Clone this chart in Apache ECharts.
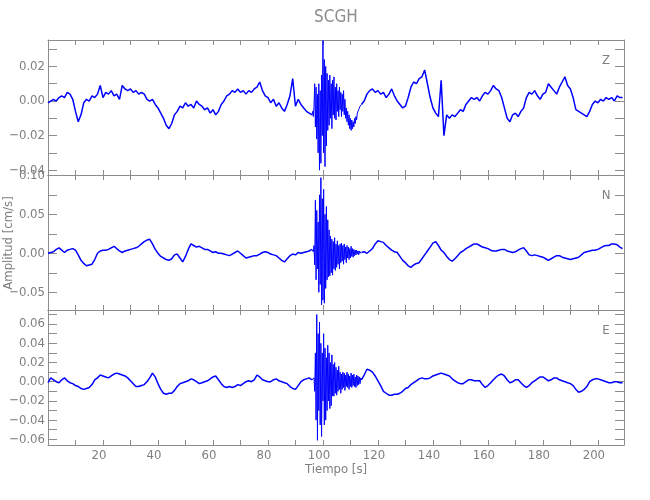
<!DOCTYPE html>
<html>
<head>
<meta charset="utf-8">
<script src="https://cdn.jsdelivr.net/npm/echarts@6/dist/echarts.min.js"></script>
<style>
html,body{margin:0;padding:0;background:#fff;}
#chart{width:650px;height:500px;}
</style>
</head>
<body>
<div id="chart"></div>
<script>
// Station and component names
const stationName = 'SCGH';
const componentNames = ['Z', 'N', 'E'];

// Each trace is read in three pieces: before the arrival (1 s steps, 0..96 s),
// the strong motion (0.25 s steps, 96.25..113.75 s), and the coda (1 s steps, 114..209 s).
const preStart = 0,       preStep = 1;
const strongStart = 96.25, strongStep = 0.25;
const postStart = 114,    postStep = 1;

// ---- Z component (cm/s) ----
const zPre = [
 -0.001, 0.000, 0.001, 0.000, 0.002, 0.003, 0.002, 0.005, 0.004, 0.001,
 -0.006, -0.012, -0.008, -0.001, 0.001, 0.000, 0.003, 0.002, 0.004, 0.009,
 0.002, 0.005, 0.004, 0.006, 0.003, 0.004, 0.001, 0.009, 0.007, 0.006,
 0.007, 0.005, 0.006, 0.004, 0.005, 0.004, 0.001, 0.000, 0.001, -0.002,
 -0.004, -0.007, -0.010, -0.014, -0.016, -0.013, -0.008, -0.006, -0.003, -0.004,
 -0.001, -0.003, -0.002, -0.004, 0.000, -0.002, -0.003, -0.005, -0.004, -0.007,
 -0.005, -0.008, -0.006, -0.002, 0.000, 0.003, 0.004, 0.006, 0.005, 0.007,
 0.005, 0.006, 0.004, 0.006, 0.005, 0.007, 0.008, 0.011, 0.006, 0.003,
 0.002, -0.001, 0.001, -0.003, -0.001, -0.004, -0.006, -0.002, 0.003, 0.013,
 -0.003, 0.001, -0.002, -0.004, -0.006, -0.007, -0.008
];
const zStrong = [
                    -0.006, -0.009, -0.003,
  0.010, -0.015,  0.008, -0.022,
  0.004, -0.030,  0.010, -0.040,
  0.006, -0.036,  0.015, -0.020,
  0.035, -0.030,  0.024, -0.038,
  0.020, -0.026,  0.016, -0.017,
  0.012, -0.014,  0.015, -0.010,
  0.010, -0.016,  0.012, -0.008,
  0.014, -0.010,  0.008, -0.011,
  0.010, -0.006,  0.006, -0.009,
  0.008, -0.005,  0.005, -0.009,
  0.004, -0.006,  0.006, -0.008,
  0.001, -0.010, -0.004, -0.012,
 -0.006, -0.014, -0.008, -0.016,
 -0.010, -0.017, -0.011, -0.016,
 -0.012, -0.015, -0.010, -0.013,
 -0.009, -0.011, -0.007, -0.008,
 -0.005, -0.006, -0.003, -0.003
];
const zPost = [
 -0.002, 0.000, 0.004, 0.006, 0.007, 0.005,
 0.006, 0.004, 0.005, 0.002, 0.004, 0.007, 0.003, 0.000, -0.002, -0.004,
 -0.003, 0.002, 0.008, 0.011, 0.010, 0.013, 0.014, 0.018, 0.010, 0.002,
 -0.004, -0.007, -0.009, 0.012, -0.020, -0.008, -0.010, -0.008, -0.009, -0.007,
 -0.005, -0.006, -0.002, 0.000, 0.002, 0.001, 0.002, 0.000, 0.003, 0.005,
 0.004, 0.006, 0.009, 0.007, 0.006, 0.002, -0.004, -0.010, -0.012, -0.008,
 -0.007, -0.009, -0.006, -0.004, 0.002, 0.005, 0.004, 0.006, 0.003, 0.001,
 0.004, 0.005, 0.010, 0.008, 0.006, 0.004, 0.008, 0.011, 0.014, 0.009,
 0.007, 0.002, -0.005, -0.006, -0.007, -0.008, -0.009, -0.006, -0.002, 0.000,
 -0.001, 0.001, 0.000, 0.002, 0.001, 0.002, 0.000, 0.003, 0.002, 0.002
];

// ---- N component (cm/s) ----
const nPre = [
 0.000, 0.001, 0.002, 0.005, 0.007, 0.004, 0.001, 0.004, 0.005, 0.006,
 0.004, -0.002, -0.009, -0.013, -0.016, -0.015, -0.014, -0.008, 0.000, 0.003,
 0.004, 0.004, 0.005, 0.007, 0.009, 0.006, 0.003, 0.001, 0.003, 0.004,
 0.005, 0.006, 0.007, 0.009, 0.012, 0.015, 0.017, 0.018, 0.012, 0.005,
 0.000, -0.004, -0.006, -0.008, -0.009, -0.007, -0.002, -0.001, -0.006, -0.011,
 -0.004, 0.005, 0.012, 0.010, 0.008, 0.009, 0.007, 0.005, 0.005, 0.003,
 0.001, 0.002, 0.000, 0.000, -0.001, -0.002, -0.003, -0.001, 0.001, 0.003,
 0.000, -0.003, -0.006, -0.005, -0.004, -0.003, -0.003, -0.001, 0.001, 0.002,
 0.001, -0.001, -0.002, -0.003, -0.006, -0.009, -0.011, -0.007, -0.003, -0.001,
 -0.002, 0.001, 0.000, 0.001, 0.002, 0.003, 0.005
];
const nStrong = [
                     0.004,  0.002,  0.010,
 -0.015,  0.068, -0.034,  0.055,
 -0.020,  0.040, -0.050,  0.075,
 -0.040,  0.097, -0.066,  0.070,
 -0.060,  0.082, -0.064,  0.050,
 -0.045,  0.060, -0.034,  0.043,
 -0.030,  0.030, -0.029,  0.022,
 -0.025,  0.018, -0.028,  0.015,
 -0.020,  0.020, -0.022,  0.012,
 -0.018,  0.016, -0.014,  0.010,
 -0.020,  0.012, -0.012,  0.013,
 -0.010,  0.010, -0.014,  0.012,
 -0.008,  0.008, -0.012,  0.010,
 -0.006,  0.008, -0.008,  0.006,
 -0.006,  0.009, -0.004,  0.006,
 -0.005,  0.005, -0.003,  0.004,
 -0.002,  0.004, -0.001,  0.003,
 -0.002,  0.003,  0.000,  0.002
];
const nPost = [
 0.001, 0.002, 0.000, 0.003, 0.006, 0.012,
 0.016, 0.015, 0.014, 0.010, 0.007, 0.004, 0.002, 0.001, -0.004, -0.009,
 -0.012, -0.016, -0.018, -0.015, -0.013, -0.012, -0.007, -0.002, 0.003, 0.008,
 0.013, 0.015, 0.010, 0.004, 0.001, -0.004, -0.008, -0.010, -0.007, -0.003,
 0.001, 0.003, 0.006, 0.008, 0.010, 0.012, 0.012, 0.010, 0.008, 0.007,
 0.006, 0.004, 0.003, 0.003, 0.004, 0.005, 0.005, 0.003, 0.002, 0.001,
 0.002, 0.004, 0.006, 0.007, 0.003, -0.002, -0.003, -0.002, -0.003, -0.004,
 -0.005, -0.007, -0.009, -0.007, -0.005, -0.003, -0.003, -0.005, -0.006, -0.007,
 -0.008, -0.007, -0.006, -0.005, -0.002, 0.001, 0.002, 0.003, 0.004, 0.004,
 0.005, 0.007, 0.009, 0.010, 0.010, 0.012, 0.012, 0.011, 0.008, 0.006
];

// ---- E component (cm/s) ----
const ePre = [
 -0.001, 0.004, 0.002, 0.000, -0.001, 0.002, 0.004, 0.001, -0.001, -0.002,
 -0.004, -0.005, -0.007, -0.008, -0.007, -0.006, -0.003, 0.002, 0.004, 0.007,
 0.006, 0.005, 0.004, 0.006, 0.008, 0.009, 0.008, 0.007, 0.006, 0.004,
 0.001, -0.002, -0.005, -0.005, -0.004, -0.003, 0.000, 0.004, 0.009, 0.005,
 -0.002, -0.008, -0.012, -0.013, -0.012, -0.012, -0.009, -0.005, -0.002, -0.001,
 0.000, 0.001, 0.003, 0.002, 0.000, -0.002, -0.001, 0.000, 0.001, 0.003,
 0.005, 0.006, 0.002, -0.002, -0.005, -0.006, -0.005, -0.006, -0.005, -0.003,
 -0.004, -0.002, 0.000, 0.001, 0.000, 0.002, 0.007, 0.005, 0.002, 0.001,
 0.000, 0.000, 0.002, 0.003, 0.001, 0.000, -0.001, -0.002, -0.005, -0.007,
 -0.008, -0.004, 0.000, 0.002, 0.003, 0.004, 0.002
];
const eStrong = [
                     0.003,  0.001,  0.004,
 -0.010,  0.030, -0.040,  0.070,
 -0.061,  0.050, -0.030,  0.062,
 -0.045,  0.040, -0.057,  0.030,
 -0.020,  0.050, -0.045,  0.035,
 -0.040,  0.025, -0.030,  0.038,
 -0.020,  0.030, -0.028,  0.020,
 -0.025,  0.028, -0.015,  0.018,
 -0.015,  0.020, -0.012,  0.015,
 -0.014,  0.012, -0.010,  0.016,
 -0.008,  0.010, -0.012,  0.008,
 -0.008,  0.010, -0.006,  0.009,
 -0.009,  0.007, -0.005,  0.010,
 -0.006,  0.008, -0.008,  0.006,
 -0.005,  0.009, -0.006,  0.007,
 -0.004,  0.008, -0.005,  0.005,
 -0.006,  0.007, -0.004,  0.006,
 -0.003,  0.005, -0.002,  0.004
];
const ePost = [
 0.002, 0.007, 0.013, 0.012, 0.010, 0.006,
 0.001, -0.004, -0.010, -0.012, -0.014, -0.014, -0.013, -0.013, -0.012, -0.010,
 -0.007, -0.006, -0.003, -0.001, 0.001, 0.003, 0.004, 0.003, 0.003, 0.004,
 0.006, 0.007, 0.008, 0.009, 0.008, 0.007, 0.006, 0.003, 0.001, -0.001,
 -0.002, -0.002, 0.000, 0.002, 0.002, 0.001, 0.001, 0.001, -0.003, -0.006,
 -0.004, -0.001, 0.002, 0.005, 0.007, 0.008, 0.006, 0.002, -0.001, 0.000,
 0.002, 0.002, -0.001, -0.004, -0.006, -0.004, -0.001, 0.001, 0.003, 0.005,
 0.005, 0.003, 0.001, 0.002, 0.004, 0.004, 0.002, 0.001, 0.000, -0.001,
 -0.002, -0.004, -0.008, -0.011, -0.010, -0.008, -0.005, 0.000, 0.002, 0.003,
 0.003, 0.002, 0.001, 0.000, -0.001, -0.001, 0.000, 0.000, -0.001, -0.001
];

// Axis ranges and ticks
const timeRange = [0, 209.5];
const timeTicks = [10,20,30,40,50,60,70,80,90,100,110,120,130,140,150,160,170,180,190,200];
const timeLabels = [20,40,60,80,100,120,140,160,180,200];

const ampRanges = [[-0.0428, 0.0353], [-0.0727, 0.1004], [-0.0659, 0.0747]];
const ampTicks = [
  [-0.04,-0.03,-0.02,-0.01,0,0.01,0.02,0.03],
  [-0.05,-0.025,0,0.025,0.05,0.075,0.10],
  [-0.06,-0.05,-0.04,-0.03,-0.02,-0.01,0,0.01,0.02,0.03,0.04,0.05,0.06,0.07]
];
const ampLabels = [
  [-0.04,-0.02,0,0.02],
  [-0.05,0,0.05,0.10],
  [-0.06,-0.04,-0.02,0,0.02,0.04,0.06]
];

const xTitle = 'Tiempo [s]';
const yTitle = 'Amplitud [cm/s]';

const FONT = "'Liberation Sans Narrow', 'DejaVu Sans Condensed', 'Arial Narrow', sans-serif";
const AXIS = '#8c8c8c';
const TEXT = '#808080';

const pieces = [[zPre, zStrong, zPost], [nPre, nStrong, nPost], [ePre, eStrong, ePost]];
const gridTops = [40, 175, 310];

function toPoints(arr, start, step) {
  return arr.map((v, k) => [start + k * step, v]);
}

const grids = [], xAxes = [], yAxes = [], series = [];
pieces.forEach((p, i) => {
  grids.push({ left: 48, top: gridTops[i], width: 576, height: 135 });
  ['bottom', 'top'].forEach(pos => {
    xAxes.push({
      gridIndex: i, type: 'value', position: pos,
      min: timeRange[0], max: timeRange[1],
      axisLine: { show: true, onZero: false, lineStyle: { color: AXIS, width: 1 } },
      axisTick: { show: true, inside: true, length: 5, customValues: timeTicks, lineStyle: { color: AXIS } },
      axisLabel: {
        show: (i === 2 && pos === 'bottom'), customValues: timeLabels,
        color: TEXT, fontFamily: FONT, fontSize: 13, margin: 4, padding: [0, 8, 0, 0]
      },
      splitLine: { show: false }
    });
  });
  ['left', 'right'].forEach(pos => {
    yAxes.push({
      gridIndex: i, type: 'value', position: pos,
      min: ampRanges[i][0], max: ampRanges[i][1],
      axisLine: { show: true, onZero: false, lineStyle: { color: AXIS, width: 1 } },
      axisTick: { show: true, inside: true, length: 9, customValues: ampTicks[i], lineStyle: { color: AXIS } },
      axisLabel: {
        show: pos === 'left', customValues: ampLabels[i],
        color: TEXT, fontFamily: FONT, fontSize: 13, margin: 3,
        formatter: v => (v < 0 ? '\u2212' : '') + Math.abs(v).toFixed(2)
      },
      splitLine: { show: false }
    });
  });
  const pre = toPoints(p[0], preStart, preStep);
  const strong = toPoints(p[1], strongStart, strongStep);
  const post = toPoints(p[2], postStart, postStep);
  const common = {
    type: 'line', xAxisIndex: 2 * i, yAxisIndex: 2 * i,
    showSymbol: false, symbol: 'none', sampling: 'none', clip: true, animation: false
  };
  series.push(Object.assign({}, common, { data: pre, lineStyle: { color: '#0000ff', width: 1.5 } }));
  series.push(Object.assign({}, common, {
    data: [pre[pre.length - 1]].concat(strong, [post[0]]),
    lineStyle: { color: '#0000ff', width: 1 }
  }));
  series.push(Object.assign({}, common, { data: post, lineStyle: { color: '#0000ff', width: 1.5 } }));
});

const graphics = [
  { type: 'text', x: 336, y: 18, style: { text: stationName, fill: '#8c8c8c', font: '17px ' + FONT, textAlign: 'center', textVerticalAlign: 'middle' } },
  { type: 'text', x: 336, y: 470, style: { text: xTitle, fill: TEXT, font: '13px ' + FONT, textAlign: 'center', textVerticalAlign: 'middle' } },
  { type: 'text', x: 9, y: 243, rotation: Math.PI / 2, style: { text: yTitle, fill: TEXT, font: '13px ' + FONT, textAlign: 'center', textVerticalAlign: 'middle' } }
];
componentNames.forEach((c, i) => {
  graphics.push({ type: 'text', x: 606, y: gridTops[i] + 21, style: { text: c, fill: TEXT, font: '13px ' + FONT, textAlign: 'center', textVerticalAlign: 'middle' } });
});

const chart = echarts.init(document.getElementById('chart'), null, { renderer: 'canvas' });
chart.setOption({
  animation: false,
  backgroundColor: '#ffffff',
  grid: grids,
  xAxis: xAxes,
  yAxis: yAxes,
  series: series,
  graphic: graphics
});
</script>
</body>
</html>
